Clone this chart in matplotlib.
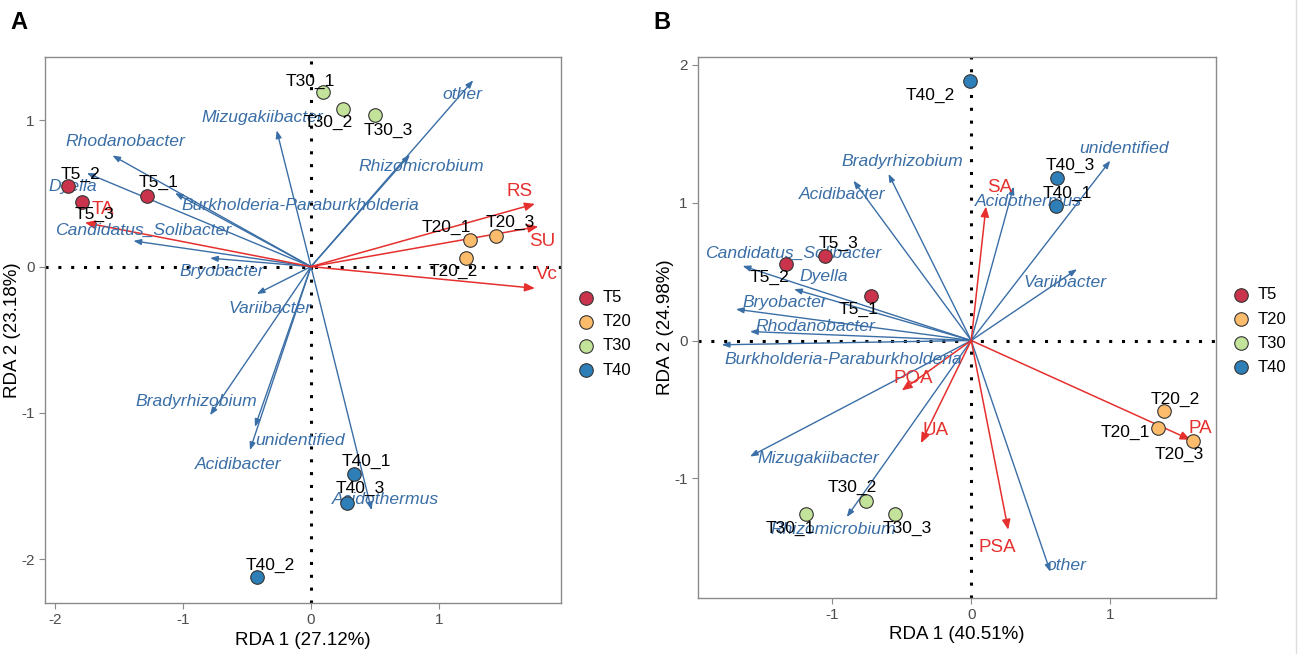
import numpy as np
import matplotlib
matplotlib.use('Agg')
from matplotlib import pyplot as plt

plt.rcParams['font.family'] = ['Liberation Sans', 'DejaVu Sans']
plt.rcParams['axes.unicode_minus'] = False

groups = ['T5', 'T20', 'T30', 'T40']
group_cols = ['#C9344C', '#FDBB6C', '#C3E29A', '#2E7EB8']

# ---- panel A data
a_samples = ['T5_1', 'T5_2', 'T5_3', 'T20_1', 'T20_2', 'T20_3',
             'T30_1', 'T30_2', 'T30_3', 'T40_1', 'T40_2', 'T40_3']
a_x = [-1.28, -1.90, -1.79, 1.24, 1.21, 1.445, 0.091, 0.252, 0.50, 0.34, -0.42, 0.284]
a_y = [0.484, 0.548, 0.445, 0.183, 0.057, 0.21, 1.194, 1.078, 1.034, -1.415, -2.123, -1.616]

a_species = ['Rhodanobacter', 'Dyella', 'Burkholderia-Paraburkholderia', 'Candidatus_Solibacter',
             'Bryobacter', 'Mizugakiibacter', 'other', 'Rhizomicrobium', 'Variibacter',
             'Bradyrhizobium', 'unidentified', 'Acidibacter', 'Acidothermus']
a_sp_x = [-1.552, -1.752, -1.063, -1.388, -0.789, -0.268, 1.268, 0.773, -0.424, -0.789, -0.438, -0.477, 0.474]
a_sp_y = [0.760, 0.640, 0.503, 0.176, 0.058, 0.932, 1.274, 0.765, -0.187, -1.016, -1.096, -1.255, -1.666]

a_env = ['TA', 'RS', 'SU', 'Vc']
a_env_x = [-1.766, 1.75, 1.776, 1.75]
a_env_y = [0.301, 0.429, 0.274, -0.148]

# ---- panel B data
b_samples = a_samples
b_x = [-0.722, -1.332, -1.051, 1.344, 1.385, 1.593, -1.188, -0.758, -0.547, 0.61, -0.012, 0.617]
b_y = [0.324, 0.556, 0.609, -0.635, -0.514, -0.725, -1.258, -1.162, -1.258, 0.976, 1.884, 1.177]

b_species = ['Bradyrhizobium', 'Acidibacter', 'Candidatus_Solibacter', 'Dyella', 'Bryobacter',
             'Rhodanobacter', 'Burkholderia-Paraburkholderia', 'Mizugakiibacter', 'Rhizomicrobium',
             'other', 'unidentified', 'Acidothermus', 'Variibacter']
b_sp_x = [-0.595, -0.847, -1.644, -1.274, -1.692, -1.591, -1.794, -1.591, -0.895, 0.569, 1.0, 0.305, 0.761]
b_sp_y = [1.208, 1.159, 0.541, 0.372, 0.227, 0.065, -0.031, -0.841, -1.28, -1.677, 1.304, 1.116, 0.517]

b_env = ['SA', 'POA', 'UA', 'PSA', 'PA']
b_env_x = [0.106, -0.499, -0.362, 0.266, 1.577]
b_env_y = [0.971, -0.362, -0.744, -1.372, -0.72]

# label placement (text centres)
a_sample_lab = [(-1.195, 0.573), (-1.80, 0.628), (-1.69, 0.36), (1.06, 0.265), (1.11, -0.036),
                (1.555, 0.30), (-0.008, 1.265), (0.133, 0.984), (0.60, 0.93), (0.43, -1.335),
                (-0.32, -2.043), (0.383, -1.518)]
a_sp_lab = [(-1.453, 0.854), (-1.86, 0.546), (-0.086, 0.42), (-1.31, 0.25), (-0.70, -0.036),
            (-0.38, 1.02), (1.18, 1.176), (0.865, 0.685), (-0.32, -0.285), (-0.893, -0.925),
            (-0.086, -1.187), (-0.568, -1.351), (0.578, -1.593)]
a_env_lab = [(-1.625, 0.39), (1.63, 0.514), (1.81, 0.171), (1.84, -0.057)]

b_sample_lab = [(-0.811, 0.222), (-1.447, 0.457), (-0.955, 0.706), (1.109, -0.667), (1.47, -0.425),
                (1.497, -0.828), (-1.303, -1.36), (-0.852, -1.065), (-0.463, -1.36), (0.689, 1.068),
                (-0.295, 1.78), (0.713, 1.266)]
b_sp_lab = [(-0.499, 1.297), (-0.931, 1.061), (-1.279, 0.628), (-1.058, 0.464), (-1.337, 0.275),
            (-1.123, 0.101), (-0.919, -0.135), (-1.099, -0.852), (-0.991, -1.372), (0.684, -1.633),
            (1.097, 1.394), (0.413, 1.007), (0.677, 0.42)]
b_env_lab = [(0.204, 1.111), (-0.415, -0.272), (-0.259, -0.652), (0.187, -1.50), (1.644, -0.635)]

blue = '#3A6EA6'
red = '#E5302E'


def draw_panel(ax, xs, ys, samples, sp, spx, spy, env, envx, envy,
               sample_lab, sp_lab, env_lab):
    ax.axhline(0, color='black', ls=(0, (1, 3.2)), lw=2.2, zorder=1)
    ax.axvline(0, color='black', ls=(0, (1, 3.2)), lw=2.2, zorder=1)
    for i in range(len(sp)):
        ax.annotate('', xy=(spx[i], spy[i]), xytext=(0, 0),
                    arrowprops=dict(arrowstyle='-|>,head_length=0.45,head_width=0.17',
                                    color=blue, lw=1.0, shrinkA=0, shrinkB=0), zorder=2)
        ax.text(sp_lab[i][0], sp_lab[i][1], sp[i], color=blue, style='italic',
                fontsize=12.6, ha='center', va='center', zorder=3)
    for i in range(len(env)):
        ax.annotate('', xy=(envx[i], envy[i]), xytext=(0, 0),
                    arrowprops=dict(arrowstyle='-|>,head_length=0.6,head_width=0.25',
                                    color=red, lw=1.1, shrinkA=0, shrinkB=0), zorder=2)
        ax.text(env_lab[i][0], env_lab[i][1], env[i], color=red,
                fontsize=13.5, ha='center', va='center', zorder=3)
    for g, c in zip(groups, group_cols):
        idx = [i for i, s in enumerate(samples) if s.split('_')[0] == g]
        ax.scatter([xs[i] for i in idx], [ys[i] for i in idx], s=95, color=c,
                   edgecolor='#333333', linewidth=0.8, zorder=4, label=g)
    for i, s in enumerate(samples):
        ax.text(sample_lab[i][0], sample_lab[i][1], s, color='black',
                fontsize=12.5, ha='center', va='center', zorder=5)
    for sp_ in ax.spines.values():
        sp_.set_color('#8A8A8A')
        sp_.set_linewidth(1.0)
    ax.tick_params(direction='out', length=4, color='#8A8A8A', labelsize=11,
                   labelcolor='#4D4D4D')
    leg = ax.legend(loc='center left', bbox_to_anchor=(1.0, 0.493), frameon=False,
                    fontsize=12, handletextpad=0.4, labelspacing=0.55, borderaxespad=0.5,
                    handlelength=1.2)
    ax.yaxis.set_label_coords(-0.046, 0.5)
    return leg


fig = plt.figure(figsize=(12.99, 6.54), dpi=100)
axA = fig.add_axes([0.0345, 0.078, 0.397, 0.835])
axB = fig.add_axes([0.5373, 0.086, 0.3988, 0.827])

draw_panel(axA, a_x, a_y, a_samples, a_species, a_sp_x, a_sp_y, a_env, a_env_x, a_env_y,
           a_sample_lab, a_sp_lab, a_env_lab)
axA.set_xlim(-2.08, 1.95)
axA.set_ylim(-2.30, 1.434)
axA.set_xticks([-2, -1, 0, 1])
axA.set_yticks([-2, -1, 0, 1])
axA.set_xlabel('RDA 1 (27.12%)', fontsize=13.5, labelpad=3)
axA.set_ylabel('RDA 2 (23.18%)', fontsize=13.5)

draw_panel(axB, b_x, b_y, b_samples, b_species, b_sp_x, b_sp_y, b_env, b_env_x, b_env_y,
           b_sample_lab, b_sp_lab, b_env_lab)
axB.set_xlim(-1.965, 1.76)
axB.set_ylim(-1.865, 2.056)
axB.set_xticks([-1, 0, 1])
axB.set_yticks([-1, 0, 1, 2])
axB.set_xlabel('RDA 1 (40.51%)', fontsize=13.5, labelpad=3)
axB.set_ylabel('RDA 2 (24.98%)', fontsize=13.5)

fig.text(0.008, 0.965, 'A', fontsize=17, fontweight='bold', ha='left', va='center')
fig.text(0.503, 0.965, 'B', fontsize=17, fontweight='bold', ha='left', va='center')
fig.add_artist(plt.Line2D([0.998, 0.998], [0.0, 1.0], color='#DDDDDD', lw=1.0))

fig.savefig('out.png', dpi=100)
